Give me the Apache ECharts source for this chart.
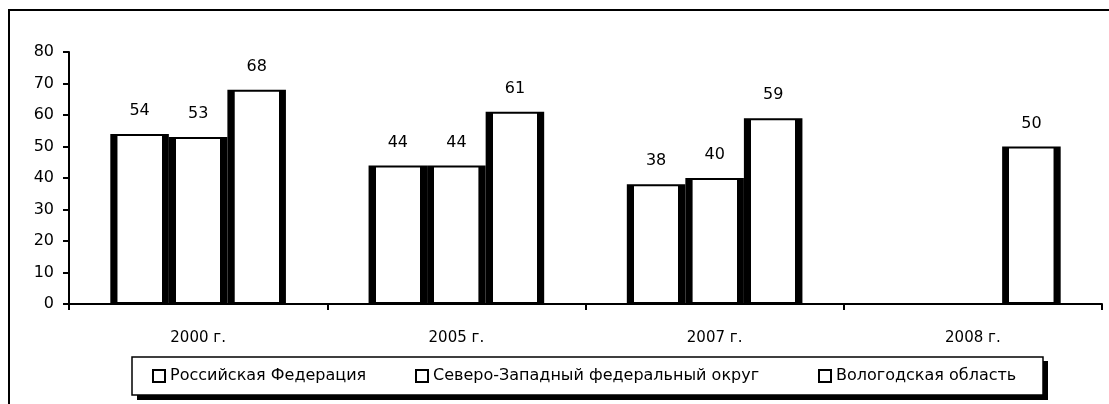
<!DOCTYPE html>
<html><head><meta charset="utf-8">
<script src="https://cdn.jsdelivr.net/npm/echarts@6/dist/echarts.min.js"></script>
<style>html,body{margin:0;padding:0;background:#fff}#c{width:1109px;height:404px}</style>
</head><body><div id="c"></div>
<script>
var categories = ['2000 г.', '2005 г.', '2007 г.', '2008 г.'];
var seriesNames = ['Российская Федерация', 'Северо-Западный федеральный округ', 'Вологодская область'];
var rfValues = [54, 44, 38, null];
var szfoValues = [53, 44, 40, null];
var vologdaValues = [68, 61, 59, 50];
var yTicks = [0, 10, 20, 30, 40, 50, 60, 70, 80];

var FONT = 'DejaVu Sans';
var barFill = {
  type: 'linear', x: 0, y: 0, x2: 1, y2: 0,
  colorStops: [
    {offset: 0, color: '#000'}, {offset: 0.12, color: '#000'},
    {offset: 0.125, color: '#fff'}, {offset: 0.875, color: '#fff'},
    {offset: 0.88, color: '#000'}, {offset: 1, color: '#000'}
  ]
};
function mk(name, data) {
  return {
    name: name, type: 'bar', data: data, barGap: '0%', barCategoryGap: '32%',
    itemStyle: {color: barFill, borderColor: '#000', borderWidth: 2},
    label: {show: true, position: 'top', distance: 15, color: '#000', fontFamily: FONT, fontSize: 16},
    emphasis: {disabled: true}
  };
}
var legendBase = {
  orient: 'horizontal', top: 368, padding: 0, itemWidth: 12, itemHeight: 12, itemGap: 10, icon: 'rect',
  textStyle: {fontFamily: FONT, fontSize: 16, color: '#000', padding: [0, 0, 0, 0]},
  selectedMode: false
};
var chart = echarts.init(document.getElementById('c'));
chart.setOption({
  animation: false,
  backgroundColor: '#fff',
  graphic: [
    {type: 'rect', shape: {x: 9, y: 10, width: 1120, height: 420}, style: {fill: 'none', stroke: '#000', lineWidth: 2}, z: 0},
    {type: 'rect', shape: {x: 137, y: 361, width: 911, height: 39}, style: {fill: '#000'}, z: 1},
    {type: 'rect', shape: {x: 132, y: 357, width: 911, height: 38}, style: {fill: '#fff', stroke: '#000', lineWidth: 1.5}, z: 2}
  ],
  legend: [
    Object.assign({}, legendBase, {left: 152, data: [seriesNames[0]], z: 5}),
    Object.assign({}, legendBase, {left: 415, data: [seriesNames[1]], z: 5}),
    Object.assign({}, legendBase, {left: 818, data: [seriesNames[2]], z: 5})
  ],
  grid: {left: 69, right: 7, top: 52, bottom: 100, containLabel: false},
  xAxis: {
    type: 'category', data: categories,
    axisLine: {lineStyle: {color: '#000', width: 2}},
    axisTick: {show: true, length: 6, lineStyle: {color: '#000', width: 2}},
    axisLabel: {color: '#000', fontFamily: FONT, fontSize: 15, margin: 27}
  },
  yAxis: {
    type: 'value', min: 0, max: 80, interval: 10,
    axisLine: {show: true, lineStyle: {color: '#000', width: 2}},
    axisTick: {show: true, length: 6, lineStyle: {color: '#000', width: 2}},
    splitLine: {show: false},
    axisLabel: {color: '#000', fontFamily: FONT, fontSize: 16, margin: 15,
      formatter: function (v) { return yTicks.indexOf(v) >= 0 ? String(v) : ''; }}
  },
  series: [mk(seriesNames[0], rfValues), mk(seriesNames[1], szfoValues), mk(seriesNames[2], vologdaValues)]
});
</script></body></html>
